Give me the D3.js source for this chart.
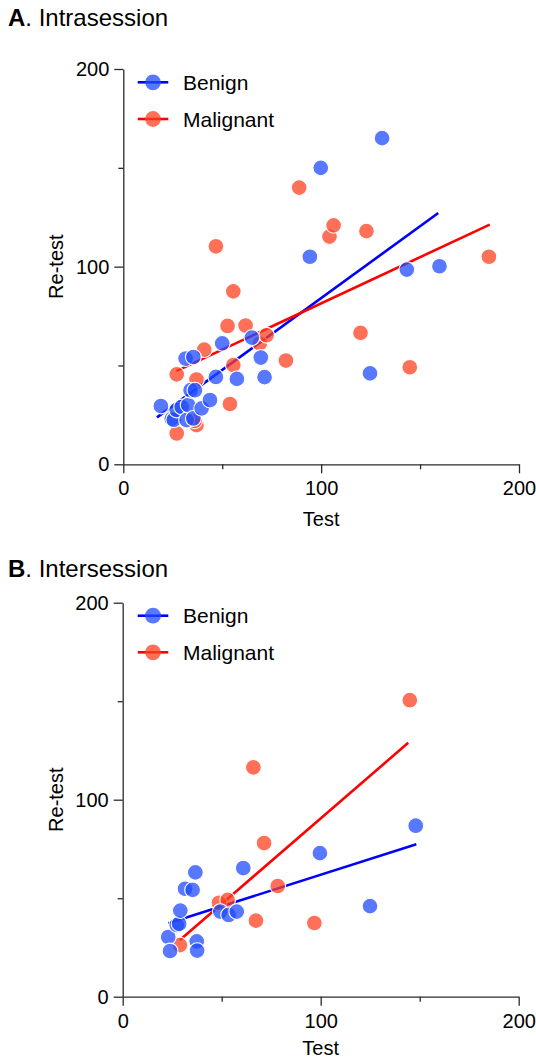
<!DOCTYPE html>
<html>
<head>
<meta charset="utf-8">
<script src="https://cdn.jsdelivr.net/npm/d3@7"></script>
<style>
  html, body { margin: 0; padding: 0; background: #fff; }
  svg { display: block; font-family: "Liberation Sans", Arial, sans-serif; }
</style>
</head>
<body>
<svg id="chart" width="536" height="1058"></svg>
<script>
// ---------- DATA ----------
const seriesNames = ["Benign", "Malignant"];
const panelTitles = [["A", ". Intrasession"], ["B", ". Intersession"]];
const axisTicks = [0, 50, 100, 150, 200];
const axisTickLabels = [0, 100, 200];
const xLabel = "Test";
const yLabel = "Re-test";

// Panel A – Intrasession: [test, re-test]
const intraBenign = [
  [19, 29.5], [24.5, 23], [25.5, 22.5], [27, 27.5], [29.5, 29], [32, 22.4],
  [32.8, 30], [34, 37.5], [35.4, 23.2], [36.2, 37.5], [39.6, 28.3], [43.8, 32.5],
  [31.5, 53.5], [35.4, 54.3], [46.8, 44.2], [50, 61.2], [57.4, 43.2], [65, 64.1],
  [69.5, 54], [71.4, 44.1], [94.3, 105], [99.8, 150], [124.7, 46], [130.8, 165],
  [143.3, 98.5], [159.8, 100.2]
];
const intraMalignant = [
  [27, 45.5], [27, 15.6], [37, 42.9], [37, 19.8], [36, 22], [40.9, 58],
  [46.8, 110.3], [52.7, 70], [53.9, 30.5], [55.6, 87.5], [55.6, 50.2], [61.8, 70.2],
  [69, 61.1], [72.4, 65.3], [82.2, 52.5], [88.9, 140], [104.2, 115.2], [106.3, 120.9],
  [119.9, 66.5], [122.9, 118], [144.8, 49.1], [184.8, 105]
];
// Panel B – Intersession
const interBenign = [
  [23, 30.3], [23.9, 23.2], [27.3, 36.4], [28.5, 37], [29.1, 43.7], [31.5, 54.8],
  [35.3, 54.2], [36.7, 63.1], [37.4, 28.1], [37.6, 23.4], [49.3, 43.2], [53.5, 41.5],
  [57.6, 43.2], [60.9, 65.3], [99.6, 72.9], [124.9, 46], [148, 86.8]
];
const interMalignant = [
  [28.9, 26.2], [48.6, 47.7], [53, 49.1], [66, 116.4], [67.3, 38.6],
  [71.4, 78], [78.3, 56.2], [96.8, 37.4], [145, 150.5]
];
// Regression fits: [slope, intercept, xStart, xEnd]
const intraBenignFit = [0.727, 11.4, 17, 159.2];
const intraMalignantFit = [0.468, 34.6, 26.8, 185.2];
const interBenignFit = [0.32, 29.9, 23, 148.3];
const interMalignantFit = [0.868, 3.7, 28.9, 144.2];

// ---------- STYLE / LAYOUT ----------
const pointFill = ["#1f4bff", "#ff4020"];
const lineColor = ["#0000ff", "#ff0000"];
const panels = [
  { title: panelTitles[0], titleY: 26, x0: 123.3, x1: 519, yBot: 464.3, yTop: 69, xLabelDy: 61.7,
    legendY: [82.3, 119], data: [intraBenign, intraMalignant], fits: [intraBenignFit, intraMalignantFit] },
  { title: panelTitles[1], titleY: 577, x0: 122.7, x1: 518.7, yBot: 996.7, yTop: 602.7, xLabelDy: 58.5,
    legendY: [615.7, 652.3], data: [interBenign, interMalignant], fits: [interBenignFit, interMalignantFit] }
];

const svg = d3.select("#chart");

panels.forEach(p => {
  const x = d3.scaleLinear().domain([0, 200]).range([p.x0, p.x1]);
  const y = d3.scaleLinear().domain([0, 200]).range([p.yBot, p.yTop]);
  const g = svg.append("g");

  // title
  const t = g.append("text").attr("x", 8).attr("y", p.titleY)
    .attr("font-size", 24).attr("fill", "#000");
  t.append("tspan").attr("font-weight", "bold").text(p.title[0]);
  t.append("tspan").text(p.title[1]);

  // axes
  const fmt = d => axisTickLabels.includes(d) ? d : "";
  const xAxis = g.append("g").attr("transform", `translate(0,${p.yBot})`)
    .call(d3.axisBottom(x).tickValues(axisTicks).tickFormat(fmt).tickSize(9).tickSizeOuter(0).tickPadding(8));
  const yAxis = g.append("g").attr("transform", `translate(${p.x0},0)`)
    .call(d3.axisLeft(y).tickValues(axisTicks).tickFormat(fmt).tickSize(9).tickSizeOuter(0).tickPadding(5));
  [xAxis, yAxis].forEach((ax, i) => {
    ax.selectAll("path.domain").attr("stroke", "#2a2a2a").attr("stroke-width", 1.3);
    ax.selectAll(".tick line").attr("stroke", "#2a2a2a").attr("stroke-width", 1.3);
    ax.selectAll(".tick text").attr("font-size", 20).attr("fill", "#000")
      .attr("font-family", '"Liberation Sans", Arial, sans-serif');
    ax.selectAll(".tick").filter(d => !axisTickLabels.includes(d)).select("line")
      .attr(i === 0 ? "y2" : "x2", i === 0 ? 5 : -5);
  });

  // axis labels
  g.append("text").attr("x", (p.x0 + p.x1) / 2).attr("y", p.yBot + p.xLabelDy)
    .attr("text-anchor", "middle").attr("font-size", 20).text(xLabel);
  g.append("text")
    .attr("transform", `translate(63,${(p.yBot + p.yTop) / 2}) rotate(-90)`)
    .attr("text-anchor", "middle").attr("font-size", 20).text(yLabel);

  // regression lines
  p.fits.forEach((f, i) => {
    const [m, b, xa, xb] = f;
    g.append("line")
      .attr("x1", x(xa)).attr("y1", y(m * xa + b))
      .attr("x2", x(xb)).attr("y2", y(m * xb + b))
      .attr("stroke", lineColor[i]).attr("stroke-width", 2.6);
  });

  // points: malignant first, benign on top
  [1, 0].forEach(i => {
    g.append("g").selectAll("circle").data(p.data[i]).join("circle")
      .attr("cx", d => x(d[0])).attr("cy", d => y(d[1])).attr("r", 7.9)
      .attr("fill", pointFill[i]).attr("fill-opacity", 0.75)
      .attr("stroke", "#fff").attr("stroke-width", 1.1);
  });

  // legend
  seriesNames.forEach((name, i) => {
    const ly = p.legendY[i];
    g.append("line").attr("x1", 137.7).attr("x2", 168.3).attr("y1", ly).attr("y2", ly)
      .attr("stroke", lineColor[i]).attr("stroke-width", 2.6);
    g.append("circle").attr("cx", 153).attr("cy", ly).attr("r", 7.9)
      .attr("fill", pointFill[i]).attr("fill-opacity", 0.75);
    g.append("text").attr("x", 183).attr("y", ly + 7.5).attr("font-size", 21).text(name);
  });
});
</script>
</body>
</html>
